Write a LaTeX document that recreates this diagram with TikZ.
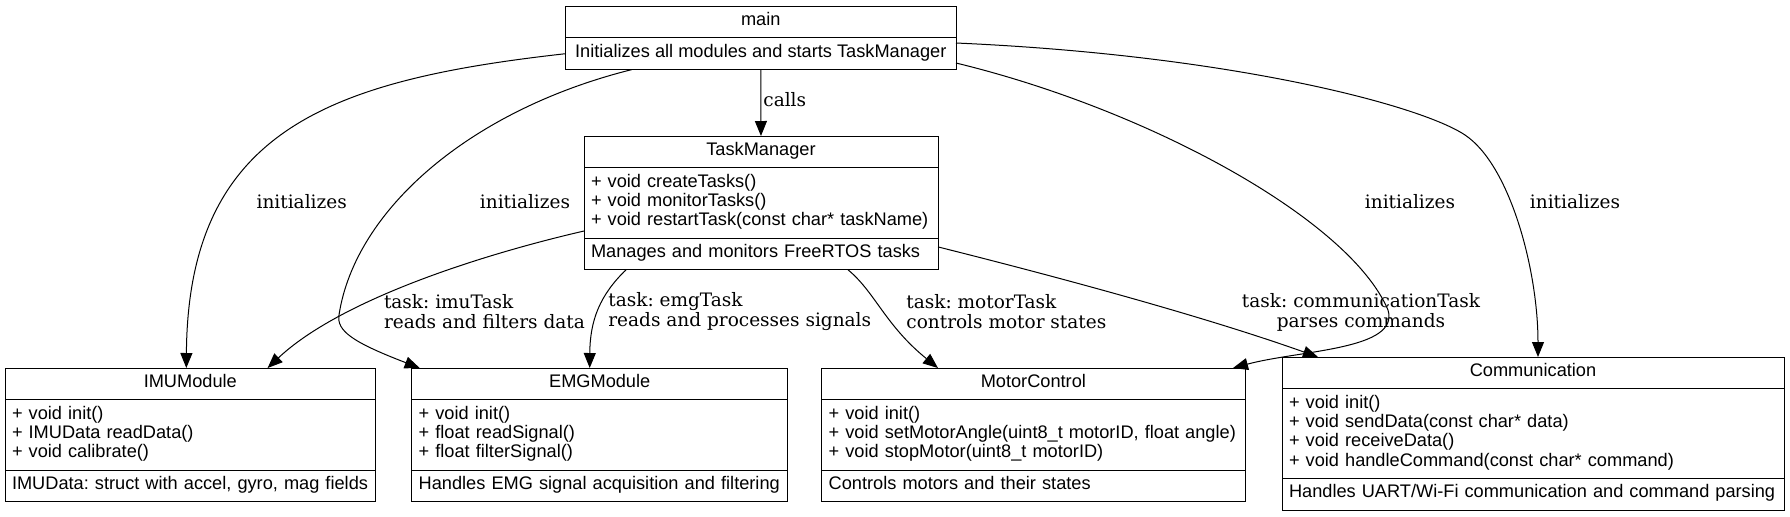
\documentclass[tikz,border=0pt]{standalone}
\usepackage{fontspec}
\newfontfamily\boxfont{Liberation Sans}
\newfontfamily\edgefont{DejaVu Serif}
\usepackage{tikz}
\usetikzlibrary{arrows.meta, positioning}
\frenchspacing

\tikzset{
	classhead/.style={draw, line width=0.5pt, outer sep=0pt, inner xsep=4pt, inner ysep=3.15pt, minimum width=#1,
		font=\boxfont\fontsize{9.1}{9.6}\selectfont, execute at begin node=\strut},
	classbody/.style={draw, line width=0.5pt, outer sep=0pt, inner xsep=3.5pt, inner ysep=3.15pt, text width=#1, align=left,
		font=\boxfont\fontsize{9.1}{9.6}\selectfont, execute at begin node=\strut, execute at end node=\strut},
	uses/.style={-{Triangle[length=7.5pt,width=6pt]}, line width=0.5pt},
	edgelabel/.style={font=\edgefont\fontsize{9.25}{10}\selectfont, inner sep=0pt}
}

\begin{document}
\begin{tikzpicture}[x=0.5pt, y=-0.5pt]
	\useasboundingbox (0,0) rectangle (1790,516);

	\node[classhead=195.25pt, anchor=north west] (main) at (565.5,6) {main};
	\node[classhead=195.25pt, below=0pt of main] (main-note) {Initializes all modules and starts TaskManager};

	\node[classhead=177pt, anchor=north west] (task) at (584,136) {TaskManager};
	\node[classbody=170pt, below=0pt of task] (task-ops) {+ void createTasks()\\+ void monitorTasks()\\+ void restartTask(const char* taskName)};
	\node[classbody=170pt, below=0pt of task-ops] (task-note) {Manages and monitors FreeRTOS tasks};

	\node[classhead=185.3pt, anchor=north west] (imu) at (5,368) {IMUModule};
	\node[classbody=178.3pt, below=0pt of imu] (imu-ops) {+ void init()\\+ IMUData readData()\\+ void calibrate()};
	\node[classbody=178.3pt, below=0pt of imu-ops] (imu-note) {IMUData: struct with accel, gyro, mag fields};

	\node[classhead=188pt, anchor=north west] (emg) at (411.7,368) {EMGModule};
	\node[classbody=181pt, below=0pt of emg] (emg-ops) {+ void init()\\+ float readSignal()\\+ float filterSignal()};
	\node[classbody=181pt, below=0pt of emg-ops] (emg-note) {Handles EMG signal acquisition and filtering};

	\node[classhead=211.65pt, anchor=north west] (motor) at (821.7,368) {MotorControl};
	\node[classbody=204.65pt, below=0pt of motor] (motor-ops) {+ void init()\\+ void setMotorAngle(uint8\_t motorID, float angle)\\+ void stopMotor(uint8\_t motorID)};
	\node[classbody=204.65pt, below=0pt of motor-ops] (motor-note) {Controls motors and their states};

	\node[classhead=251pt, anchor=north west] (comm) at (1282,357) {Communication};
	\node[classbody=244pt, below=0pt of comm] (comm-ops) {+ void init()\\+ void sendData(const char* data)\\+ void receiveData()\\+ void handleCommand(const char* command)};
	\node[classbody=244pt, below=0pt of comm-ops] (comm-note) {Handles UART/Wi-Fi communication and command parsing};

	\node[edgelabel, anchor=west] (lbl-calls) at (763,100) {calls};
	\node[edgelabel] (lbl-imu-init) at (301.7,202) {initializes};
	\node[edgelabel] (lbl-emg-init) at (525,202) {initializes};
	\node[edgelabel] (lbl-motor-init) at (1410,202) {initializes};
	\node[edgelabel] (lbl-comm-init) at (1575,202) {initializes};
	\node[edgelabel, anchor=west, align=left] (lbl-imu-task) at (383.6,312) {task: imuTask\\reads and filters data};
	\node[edgelabel, anchor=west, align=left] (lbl-emg-task) at (608,312) {task: emgTask\\reads and processes signals};
	\node[edgelabel, anchor=west, align=left] (lbl-motor-task) at (906,312) {task: motorTask\\controls motor states};
	\node[edgelabel, align=center] (lbl-comm-task) at (1361,312) {task: communicationTask\\parses commands};

	\draw[uses] (main-note) -- (task);
	\draw[uses] (main-note.west) .. controls (330,80) and (188,130) .. ([xshift=-2pt]imu.north);
	\draw[uses] ([xshift=-64.5pt]main-note.south) .. controls (470,110) and (355,210) .. (339,315)
		.. controls (336.6,330.75) and (352,342) .. ([xshift=4pt]emg.north west);
	\draw[uses] ([yshift=-4.65pt]main-note.east) .. controls (1150,110) and (1350,220) .. (1388,310)
		.. controls (1400,350) and (1300,350) .. ([xshift=-6pt]motor.north east);
	\draw[uses] ([yshift=5.35pt]main-note.east) .. controls (1230,55) and (1420,105) .. (1465,135)
		.. controls (1510,165) and (1538,270) .. ([xshift=2.5pt]comm.north);

	\draw[uses] ([yshift=3.5pt]task-ops.south west) .. controls (480,255) and (340,300) .. ([xshift=-54pt]imu.north east);
	\draw[uses] ([xshift=-67.5pt]task-note.south) .. controls (600,295) and (590,320) .. ([xshift=-5pt]emg.north);
	\draw[uses] ([xshift=43.5pt]task-note.south) .. controls (875,292) and (885,325) .. ([xshift=-47.7pt]motor.north);
	\draw[uses] ([yshift=3.5pt]task-note.east) .. controls (1050,275) and (1200,315) .. ([xshift=18pt]comm.north west);
\end{tikzpicture}
\end{document}
